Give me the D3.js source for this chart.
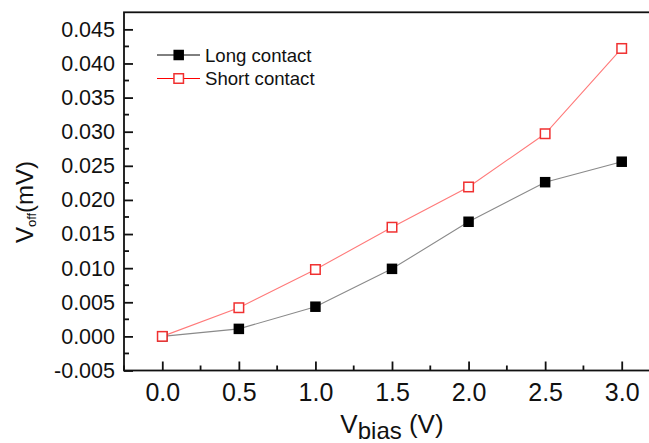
<!DOCTYPE html>
<html>
<head>
<meta charset="utf-8">
<script src="https://cdn.jsdelivr.net/npm/d3@7/dist/d3.min.js"></script>
<style>
  html, body { margin: 0; padding: 0; background: #fff; }
  svg { display: block; overflow: hidden; }
  text { font-family: "Liberation Sans", Arial, sans-serif; fill: #111; }
</style>
</head>
<body>
<svg id="chart" width="649" height="443"></svg>
<script>
// Bias voltage (V) and measured offset voltage (mV)
const biasVoltage = [0.0, 0.5, 1.0, 1.5, 2.0, 2.5, 3.0];
const longContact = [0.0, 0.0011, 0.00435, 0.0099, 0.0168, 0.0226, 0.0256];
const shortContact = [0.0, 0.0042, 0.0098, 0.0160, 0.0219, 0.0297, 0.0422];
const seriesNames = ["Long contact", "Short contact"];
const xTickValues = [0.0, 0.5, 1.0, 1.5, 2.0, 2.5, 3.0];
const yTickValues = [-0.005, 0.0, 0.005, 0.010, 0.015, 0.020, 0.025, 0.030, 0.035, 0.040, 0.045];

const svg = d3.select("#chart");

const plotLeft = 124, plotRight = 660, plotTop = 12.3, plotBottom = 370.5;

const x = d3.scaleLinear().domain([-0.25, 3.25]).range([plotLeft, plotRight]);
const y = d3.scaleLinear().domain([-0.005, 0.0475]).range([plotBottom, plotTop]);

// Minor tick positions
const xMinor = d3.range(-0.25, 3.26, 0.25).filter(v => Math.abs((v * 2) - Math.round(v * 2)) > 1e-6);
const yMinor = d3.range(-0.0025, 0.0475, 0.005);

// Inward-pointing ticks
const xAxis = d3.axisBottom(x).tickValues(xTickValues).tickFormat(d3.format(".1f"))
  .tickSizeInner(-9).tickSizeOuter(0).tickPadding(12.5);
const yAxis = d3.axisLeft(y).tickValues(yTickValues)
  .tickFormat(d => Math.abs(d) < 1e-9 ? "0.000" : d3.format(".3f")(d).replace("−", "-"))
  .tickSizeInner(-9).tickSizeOuter(0).tickPadding(9);

const gx = svg.append("g").attr("transform", `translate(0,${plotBottom})`).call(xAxis);
gx.select(".domain").remove();
gx.selectAll("text").style("font-size", "25px").attr("fill", "#111");
gx.selectAll("line").attr("stroke", "#111").attr("stroke-width", 1.8);

const gy = svg.append("g").attr("transform", `translate(${plotLeft},0)`).call(yAxis);
gy.select(".domain").remove();
gy.selectAll("text").style("font-size", "21.5px").attr("fill", "#111");
gy.selectAll("line").attr("stroke", "#111").attr("stroke-width", 1.8);

// Minor ticks
svg.append("g").selectAll("line").data(xMinor).join("line")
  .attr("x1", d => x(d)).attr("x2", d => x(d))
  .attr("y1", plotBottom).attr("y2", plotBottom - 5)
  .attr("stroke", "#111").attr("stroke-width", 1.8);
svg.append("g").selectAll("line").data(yMinor).join("line")
  .attr("x1", plotLeft).attr("x2", plotLeft + 5)
  .attr("y1", d => y(d)).attr("y2", d => y(d))
  .attr("stroke", "#111").attr("stroke-width", 1.8);

// Plot frame
svg.append("rect")
  .attr("x", plotLeft).attr("y", plotTop)
  .attr("width", plotRight - plotLeft).attr("height", plotBottom - plotTop)
  .attr("fill", "none").attr("stroke", "#111").attr("stroke-width", 1.8);

const line = d3.line().x(d => x(d[0])).y(d => y(d[1]));
const longPts = biasVoltage.map((v, i) => [v, longContact[i]]);
const shortPts = biasVoltage.map((v, i) => [v, shortContact[i]]);

svg.append("path").datum(longPts).attr("d", line)
  .attr("fill", "none").attr("stroke", "#8a8a8a").attr("stroke-width", 1.1);
svg.append("path").datum(shortPts).attr("d", line)
  .attr("fill", "none").attr("stroke", "#ff7a7a").attr("stroke-width", 1.1);

const ms = 10.5;
svg.append("g").selectAll("rect").data(longPts).join("rect")
  .attr("x", d => x(d[0]) - ms / 2).attr("y", d => y(d[1]) - ms / 2)
  .attr("width", ms).attr("height", ms).attr("fill", "#000");
const ms2 = 9.5;
svg.append("g").selectAll("rect").data(shortPts).join("rect")
  .attr("x", d => x(d[0]) - ms2 / 2).attr("y", d => y(d[1]) - ms2 / 2)
  .attr("width", ms2).attr("height", ms2).attr("fill", "#fff")
  .attr("stroke", "#f03030").attr("stroke-width", 1.5);

// Legend
const legend = svg.append("g");
const legendRows = [
  { name: seriesNames[0], y: 55, line: "#000", fill: "#000", stroke: null },
  { name: seriesNames[1], y: 78.5, line: "#f00", fill: "#fff", stroke: "#f03030" }
];
legendRows.forEach(r => {
  legend.append("line").attr("x1", 157).attr("x2", 200).attr("y1", r.y).attr("y2", r.y)
    .attr("stroke", r.line).attr("stroke-width", 1);
  const s = r.stroke ? ms2 : ms;
  legend.append("rect").attr("x", 178.7 - s / 2).attr("y", r.y - s / 2)
    .attr("width", s).attr("height", s).attr("fill", r.fill)
    .attr("stroke", r.stroke).attr("stroke-width", r.stroke ? 1.5 : 0);
  legend.append("text").attr("x", 205).attr("y", r.y).attr("dy", "0.35em")
    .style("font-size", "18.6px").text(r.name);
});

// X axis title
const xt = svg.append("text").attr("x", 392).attr("y", 433)
  .attr("text-anchor", "middle").style("font-size", "26px");
xt.append("tspan").text("V");
xt.append("tspan").attr("dy", 6).style("font-size", "24px").text("bias");
xt.append("tspan").attr("dy", -6).text(" (V)");

// Y axis title
const yt = svg.append("text").attr("transform", "translate(33,202) rotate(-90)")
  .attr("text-anchor", "middle").style("font-size", "24px");
yt.append("tspan").text("V");
yt.append("tspan").attr("dy", 3).style("font-size", "13px").text("off");
yt.append("tspan").attr("dy", -3).text("(mV)");
</script>
</body>
</html>
